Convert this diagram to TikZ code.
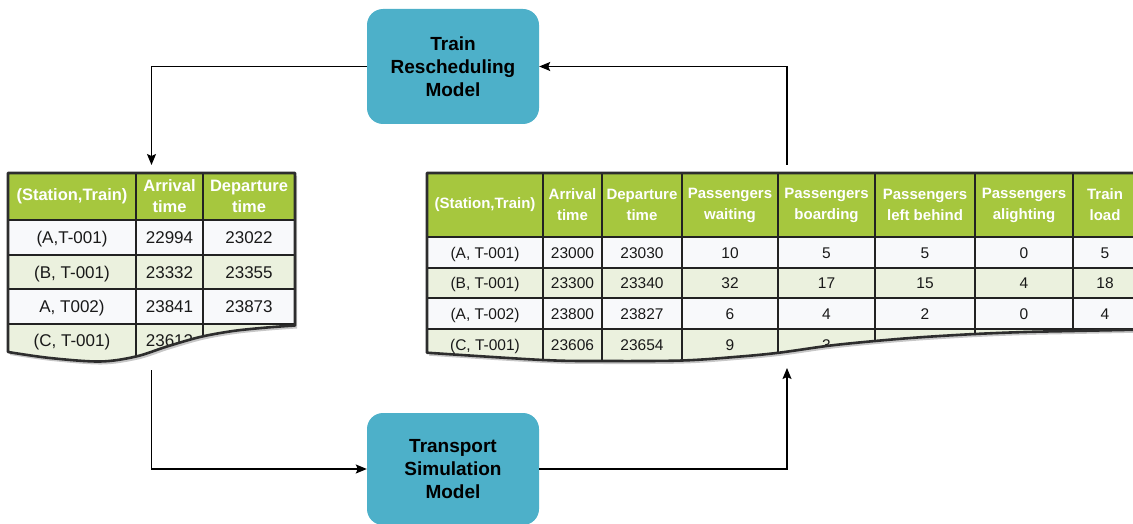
\documentclass[tikz,border=0pt]{standalone}
\usepackage{fontspec}
\setmainfont{Liberation Sans}
\usetikzlibrary{arrows.meta}

\definecolor{boxteal}{RGB}{77,176,201}
\definecolor{hdrgreen}{RGB}{166,199,62}
\definecolor{rowgreen}{RGB}{235,241,222}
\definecolor{rowwhite}{RGB}{248,249,251}
\definecolor{gridline}{RGB}{34,34,34}
\definecolor{framegray}{RGB}{45,45,45}
\definecolor{celltext}{RGB}{25,25,25}

\tikzset{
  model/.style={rounded corners=16pt, fill=boxteal, minimum width=172pt,
    text width=160pt, align=center, inner sep=0pt,
    font=\fontsize{19}{23}\selectfont\bfseries},
  link/.style={draw=black, line width=1.3pt,
    -{Stealth[length=11pt,width=9pt,inset=2pt]}},
  frame/.style={inner sep=0pt, outer sep=0pt, minimum height=189pt},
  grid/.style={draw=gridline, line width=1.2pt},
  heavygrid/.style={draw=gridline, line width=2pt},
  outline/.style={draw=framegray, line width=2.6pt, line join=round},
  shade/.style={fill=black, opacity=0.22},
  lhead/.style={text=white, align=center, inner sep=0pt,
    font=\fontsize{16.5}{21}\selectfont\bfseries},
  lcell/.style={text=celltext, inner sep=0pt, text height=12.2pt, text depth=0pt,
    font=\fontsize{17}{20}\selectfont},
  rhead/.style={text=white, align=center, inner sep=0pt,
    font=\fontsize{15}{21}\selectfont\bfseries},
  rcell/.style={text=celltext, inner sep=0pt, text height=11.1pt, text depth=0pt,
    font=\fontsize{15.5}{19}\selectfont},
  % outline of the short timetable, with its wavy lower edge
  leftshape/.style={insert path={(8,173) -- (295,173) -- (295,325.5)
    -- plot[smooth, tension=0.55] coordinates {(295,325.5) (267,327.5) (233,331)
      (200,337) (167,346.5) (136,356.5) (100,361.5) (50,358) (8,352)} -- cycle}},
  % outline of the full simulation table
  rightshape/.style={insert path={(427,173) -- (1147,173) -- (1147,329.5)
    -- plot[smooth, tension=0.55] coordinates {(1147,329.5) (1072,331) (1025,332)
      (975,334) (920,337.3) (875,341) (829,345.7) (779,352.7) (738,356.7)
      (682,360.5) (602,361) (543,360) (427,352.7)} -- cycle}},
}

\begin{document}
\begin{tikzpicture}[x=1pt, y=-1pt]
\useasboundingbox (0,0) rectangle (1133,524);

% ---------------- model boxes ----------------
\node[model, minimum height=115pt] (trm) at (453,66.5) {Train\\Rescheduling\\Model};
\node[model, minimum height=112pt] (tsm) at (453,469) {Transport\\Simulation\\Model};

% ---------------- left table: rescheduled timetable ----------------
\fill[shade, shift={(2,3)}, leftshape];
\begin{scope}
  \clip[leftshape];
  \fill[hdrgreen] (8,173) rectangle (295,220);
  \fill[rowwhite] (8,220) rectangle (295,255);
  \fill[rowgreen] (8,255) rectangle (295,289);
  \fill[rowwhite] (8,289) rectangle (295,324);
  \fill[rowgreen] (8,324) rectangle (295,370);
  \foreach \y in {220,255,289,324} \draw[grid] (8,\y) -- (295,\y);
  \foreach \x in {136,203} \draw[grid] (\x,173) -- (\x,370);
  \foreach \txt/\x [count=\i] in {{(Station,Train)}/72, {Arrival\\time}/169.5,
      {Departure\\time}/249}
    \node[lhead] (lh\i) at (\x,196.5) {\txt};
  \foreach \y/\a/\b/\c [count=\r] in {237.5/{(A,T-001)}/22994/23022,
      272/{(B, T-001)}/23332/23355, 306.5/{A, T002)}/23841/23873} {
    \node[lcell] (l\r a) at (72,\y) {\a};
    \node[lcell] (l\r b) at (169.5,\y) {\b};
    \node[lcell] (l\r c) at (249,\y) {\c};
  }
  \node[lcell] (l4a) at (72,340) {(C, T-001)};
  \node[lcell] (l4b) at (169.5,340) {23612};
\end{scope}
\draw[outline, leftshape];
\node[frame, minimum width=287pt] (lt) at (151.5,267.5) {};

% ---------------- right table: simulation output ----------------
\fill[shade, shift={(2,3)}, rightshape];
\begin{scope}
  \clip[rightshape];
  \fill[hdrgreen] (427,173) rectangle (1147,237);
  \fill[rowwhite] (427,237) rectangle (1147,268);
  \fill[rowgreen] (427,268) rectangle (1147,298);
  \fill[rowwhite] (427,298) rectangle (1147,329);
  \fill[rowgreen] (427,329) rectangle (1147,370);
  \foreach \y in {237,268,298} \draw[grid] (427,\y) -- (1147,\y);
  \draw[heavygrid] (427,329) -- (1147,329);
  \foreach \x in {543,602,778,875,975,1073} \draw[grid] (\x,173) -- (\x,370);
  \draw[heavygrid] (682,173) -- (682,370);
  \foreach \txt/\x [count=\i] in {{(Station,Train)}/485, {Arrival\\time}/572.5,
      {Departure\\time}/642, {Passengers\\waiting}/730,
      {Passengers\\boarding}/826.5, {Passengers\\left behind}/925,
      {Passengers\\alighting}/1024, {Train\\load}/1105}
    \node[rhead] (rh\i) at (\x,205) {\txt};
  \foreach \y/\a/\b/\c/\d/\e/\f/\g/\h [count=\r] in {
      252.5/{(A, T-001)}/23000/23030/10/5/5/0/5,
      283/{(B, T-001)}/23300/23340/32/17/15/4/18,
      313.5/{(A, T-002)}/23800/23827/6/4/2/0/4} {
    \node[rcell] (r\r a) at (485,\y) {\a};
    \node[rcell] (r\r b) at (572.5,\y) {\b};
    \node[rcell] (r\r c) at (642,\y) {\c};
    \node[rcell] (r\r d) at (730,\y) {\d};
    \node[rcell] (r\r e) at (826.5,\y) {\e};
    \node[rcell] (r\r f) at (925,\y) {\f};
    \node[rcell] (r\r g) at (1024,\y) {\g};
    \node[rcell] (r\r h) at (1105,\y) {\h};
  }
  \node[rcell] (r4a) at (485,344.5) {(C, T-001)};
  \node[rcell] (r4b) at (572.5,344.5) {23606};
  \node[rcell] (r4c) at (642,344.5) {23654};
  \node[rcell] (r4d) at (730,344.5) {9};
  \node[rcell] (r4e) at (826.5,344.5) {3};
\end{scope}
\draw[outline, rightshape];
\node[frame, minimum width=720pt] (rt) at (787,267.5) {};

% ---------------- connectors ----------------
\draw[link, shorten >=8pt] (trm.west) -| (lt.north);
\draw[link, shorten <=8pt] (lt.south) |- (tsm.west);
\draw[link, shorten <=0pt, shorten >=6pt] (tsm.east) -| (rt.south);
\draw[link, shorten <=8pt] (rt.north) |- (trm.east);
\end{tikzpicture}
\end{document}
